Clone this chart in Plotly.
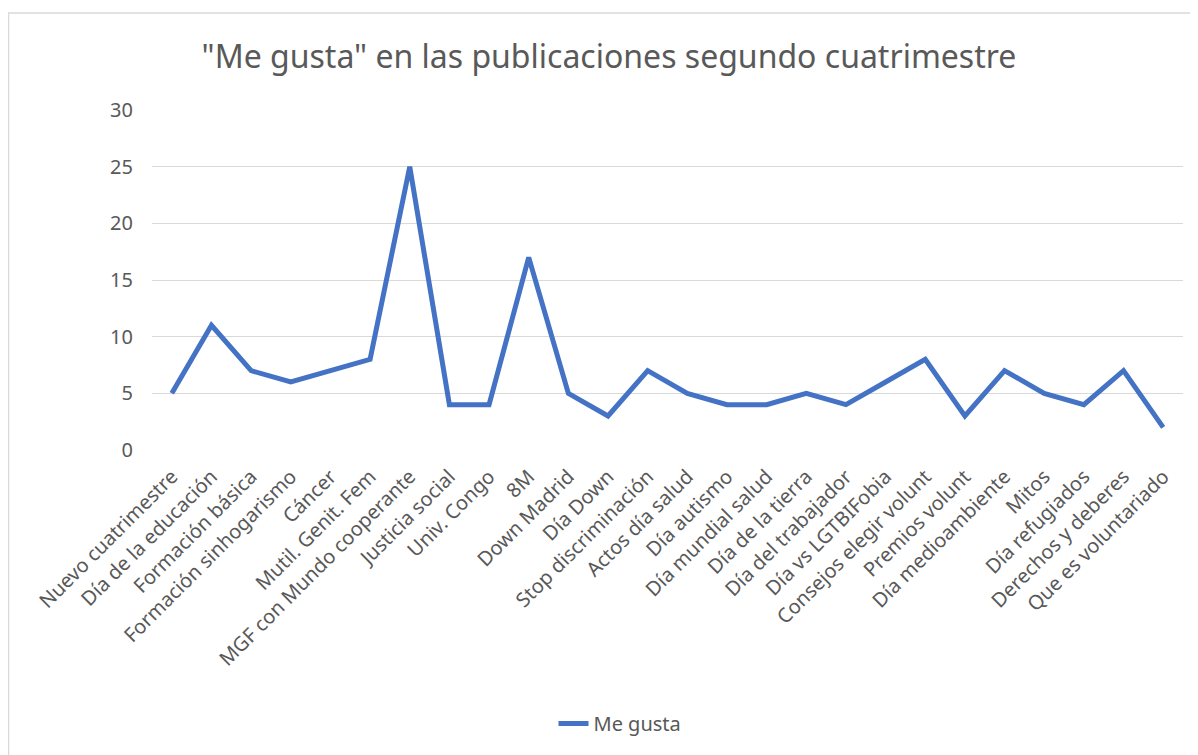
import plotly.graph_objects as go

categories = [
    "Nuevo cuatrimestre", "Día de la educación", "Formación básica",
    "Formación sinhogarismo", "Cáncer", "Mutil. Genit. Fem",
    "MGF con Mundo cooperante", "Justicia social", "Univ. Congo", "8M",
    "Down Madrid", "Día Down", "Stop discriminación", "Actos día salud",
    "Día autismo", "Día mundial salud", "Día de la tierra",
    "Día del trabajador", "Día vs LGTBIFobia", "Consejos elegir volunt",
    "Premios volunt", "Día medioambiente", "Mitos", "Día refugiados",
    "Derechos y deberes", "Que es voluntariado",
]
me_gusta = [5, 11, 7, 6, 7, 8, 25, 4, 4, 17, 5, 3, 7, 5, 4, 4, 5, 4, 6, 8, 3, 7, 5, 4, 7, 2]
y_ticks = [0, 5, 10, 15, 20, 25, 30]

OFF = 8  # page body margin
W, H = 1198 - OFF, 755 - OFF
# screen coordinates of plot area, converted to figure coordinates
L, R, T, B = 152 - OFF, 1183 - OFF, 110 - OFF, 452 - OFF

fig = go.Figure()
fig.add_trace(go.Scatter(
    x=categories, y=me_gusta, mode="lines", name="Me gusta",
    line=dict(color="#4472C4", width=5),
))

pw, ph = R - L, B - T
def px(sx):
    return (sx - OFF - L) / pw
def py(sy):
    return (B - (sy - OFF)) / ph

fig.update_layout(
    width=W, height=H,
    margin=dict(l=L, r=W - R, t=T, b=H - B),
    paper_bgcolor="white", plot_bgcolor="white",
    font=dict(family="Noto Sans", color="#595959"),
    title=dict(
        text='"Me gusta" en las publicaciones segundo cuatrimestre',
        x=(609 - OFF) / W, xanchor="center", y=1 - (57 - OFF) / H, yanchor="middle",
        font=dict(family="Noto Sans", size=32, color="#595959"),
    ),
    showlegend=True,
    legend=dict(
        orientation="h", x=px(620), xanchor="center",
        y=py(727), yanchor="middle",
        font=dict(size=20, color="#595959"),
    ),
    xaxis=dict(
        type="category", range=[-0.5, len(categories) - 0.5],
        tickangle=-45, tickfont=dict(size=20, color="#595959"),
        showgrid=False, showline=False, ticks="",
        ticklabelstandoff=10,
    ),
    yaxis=dict(
        range=[0, 30], tickvals=y_ticks,
        tickfont=dict(size=20, color="#595959"),
        showgrid=True, gridcolor="#d9d9d9", gridwidth=1.3,
        zeroline=False, showline=False, ticks="",
        ticklabelstandoff=18,
    ),
    shapes=[dict(
        type="rect", xref="paper", yref="paper",
        x0=px(8.5), x1=px(1230), y0=py(12.5), y1=py(800),
        line=dict(color="#d9d9d9", width=1.5), fillcolor="rgba(0,0,0,0)",
        layer="below",
    )],
)

fig.write_html("out.html")
